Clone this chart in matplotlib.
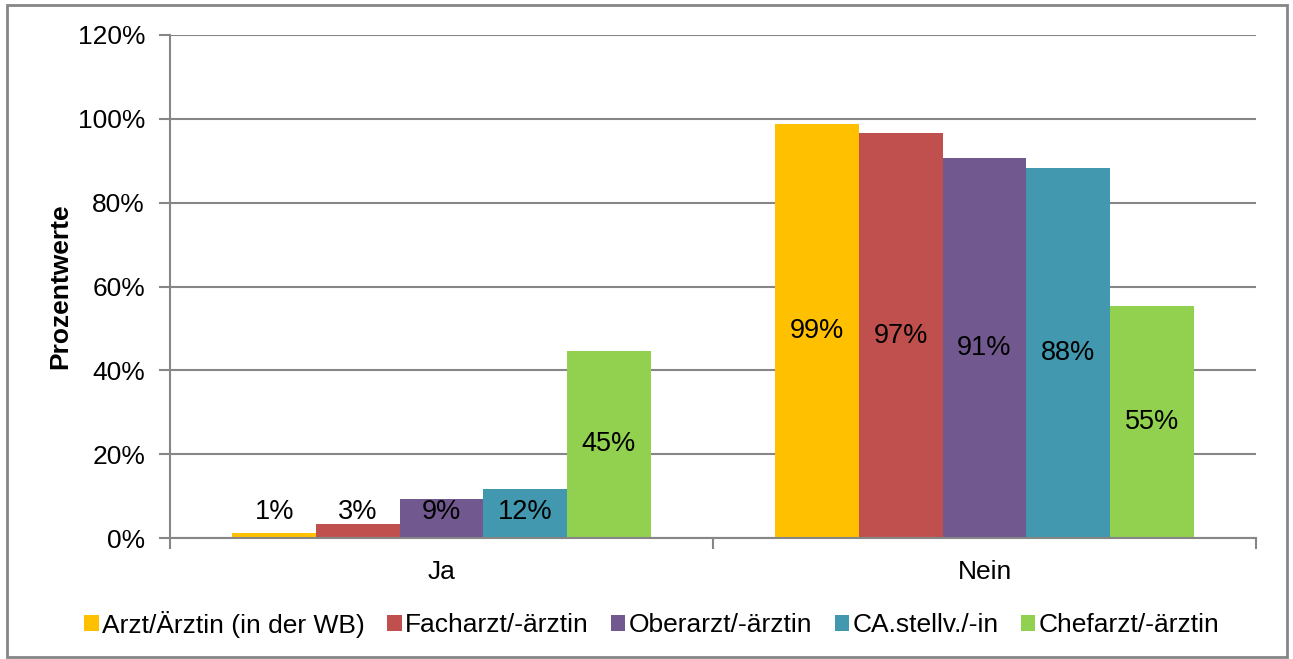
import matplotlib
matplotlib.use("Agg")
import matplotlib.pyplot as plt
from matplotlib.patches import Rectangle
import numpy as np

categories = ["Ja", "Nein"]
series = ["Arzt/Ärztin (in der WB)", "Facharzt/-ärztin", "Oberarzt/-ärztin",
          "CA.stellv./-in", "Chefarzt/-ärztin"]
values = {
    "Arzt/Ärztin (in der WB)": [1.3, 98.7],
    "Facharzt/-ärztin": [3.4, 96.6],
    "Oberarzt/-ärztin": [9.4, 90.6],
    "CA.stellv./-in": [11.8, 88.2],
    "Chefarzt/-ärztin": [44.7, 55.3],
}
labels = {
    "Arzt/Ärztin (in der WB)": ["1%", "99%"],
    "Facharzt/-ärztin": ["3%", "97%"],
    "Oberarzt/-ärztin": ["9%", "91%"],
    "CA.stellv./-in": ["12%", "88%"],
    "Chefarzt/-ärztin": ["45%", "55%"],
}
colors = ["#FFC000", "#C0504D", "#71588F", "#4198AF", "#92D050"]
yticks = [0, 20, 40, 60, 80, 100, 120]
ytick_labels = ["0%", "20%", "40%", "60%", "80%", "100%", "120%"]

plt.rcParams['font.family'] = ['Liberation Sans', 'DejaVu Sans']
fig = plt.figure(figsize=(12.93, 6.59), dpi=100)
ax = fig.add_axes([170/1293, 1-538/659, (1256-170)/1293, (538-35)/659])

grid_c = "#868686"
x = np.arange(len(categories))
w = 0.154
for i, s in enumerate(series):
    pos = x + (i - 2) * w
    ax.bar(pos, values[s], width=w, color=colors[i], label=s, zorder=3)
    for p, v, t in zip(pos, values[s], labels[s]):
        ax.text(p, max(v / 2, 6.2), t, ha="center", va="center",
                fontsize=19.5, color="black", zorder=4)

ax.set_xlim(-0.5, 1.5)
ax.set_ylim(0, 120)
ax.set_yticks(yticks)
ax.set_yticklabels(ytick_labels, fontsize=19)
ax.set_xticks(x)
ax.set_xticklabels(categories, fontsize=19)
ax.set_xticks([-0.5, 0.5, 1.5], minor=True)
ax.tick_params(axis="x", which="major", length=0, pad=16)
ax.tick_params(axis="x", which="minor", length=8, width=1.5, color=grid_c, direction="out")
ax.tick_params(axis="y", length=8, width=1.5, color=grid_c, pad=10)
ax.yaxis.grid(True, color=grid_c, linewidth=1.5, zorder=0)
ax.set_axisbelow(True)
for sp in ["top", "right"]:
    ax.spines[sp].set_visible(False)
for sp in ["left", "bottom"]:
    ax.spines[sp].set_color(grid_c)
    ax.spines[sp].set_linewidth(1.5)
    ax.spines[sp].set_zorder(5)

ax.set_ylabel("Prozentwerte", fontsize=19, fontweight="bold", labelpad=4)

leg = fig.legend(loc="center", bbox_to_anchor=(0.504, 1-624/659), ncol=5,
                 frameon=False, fontsize=19, handlelength=0.55, handleheight=0.55,
                 handletextpad=0.12, columnspacing=0.85)

fig.patches.append(Rectangle((7/1293, 1-657/659), 1280/1293, 652/659,
                             transform=fig.transFigure, fill=False,
                             edgecolor="#868686", linewidth=2))

fig.savefig("out.png", dpi=100)
